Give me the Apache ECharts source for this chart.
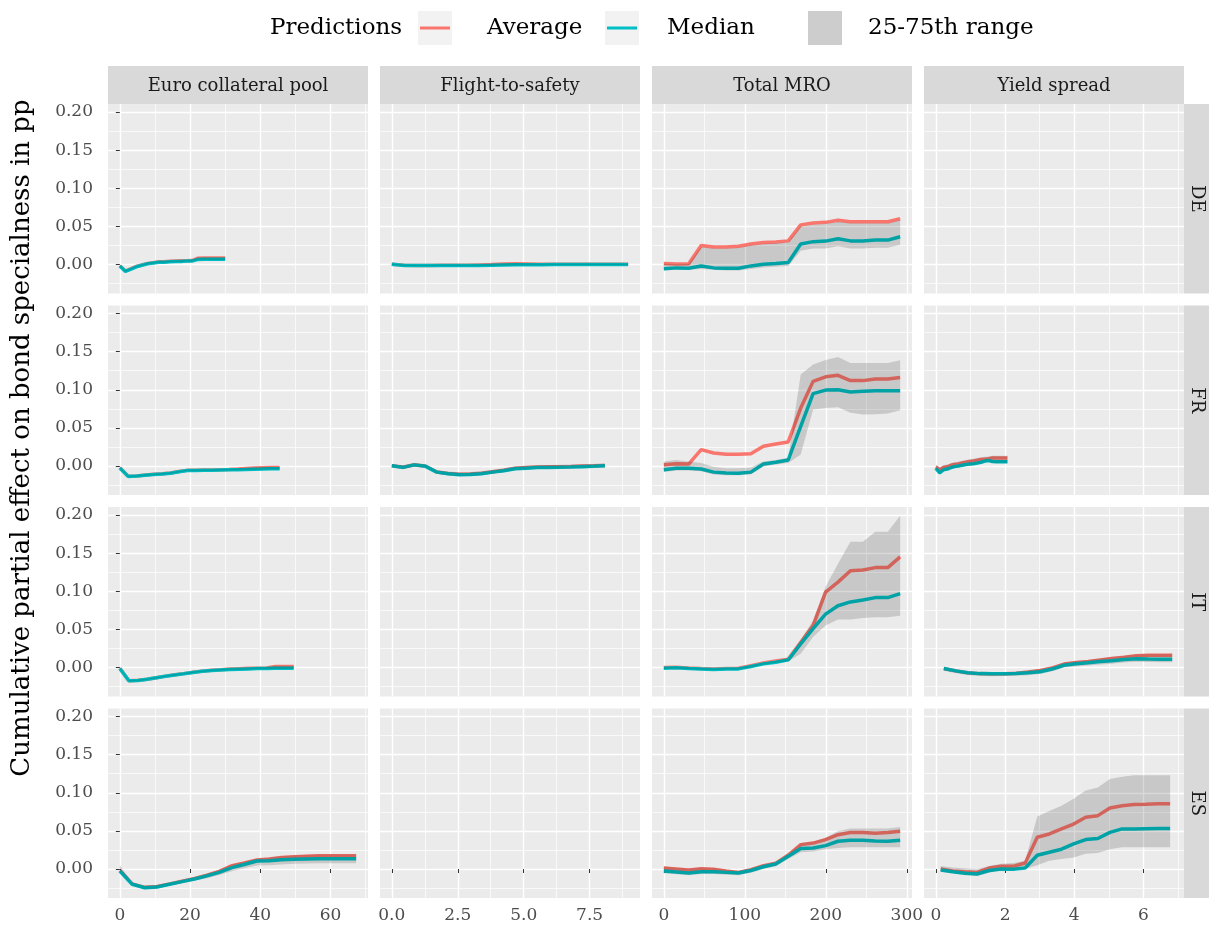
<!DOCTYPE html>
<html>
<head>
<meta charset="utf-8">
<script src="https://cdn.jsdelivr.net/npm/echarts@6/dist/echarts.min.js"></script>
<style>
  html, body { margin: 0; padding: 0; background: #fff; }
  #chart { width: 1209px; height: 932px; }
</style>
</head>
<body>
<div id="chart"></div>
<script>
const FONT = 'DejaVu Serif';
const colNames = ['Euro collateral pool', 'Flight-to-safety', 'Total MRO', 'Yield spread'];
const rowNames = ['DE', 'FR', 'IT', 'ES'];

// tick values per column (free x scales), shared y
const xMajor = [[0, 20, 40, 60], [0, 2.5, 5, 7.5], [0, 100, 200, 300], [0, 2, 4, 6]];
const xMinor = [[10, 30, 50, 70], [1.25, 3.75, 6.25, 8.75], [50, 150, 250], [1, 3, 5, 7]];
const xRange = [[-3.37, 70.67], [-0.448, 9.41], [-14.6, 306.4], [-0.342, 7.17]];
const yMajor = [0, 0.05, 0.1, 0.15, 0.2];
const yMinor = [-0.025, 0.025, 0.075, 0.125, 0.175];
const yRange = [-0.038, 0.2105];

// ---- DE ----
const deEuroX = [0, 1.6, 3.2, 4.7, 6.3, 7.9, 9.5, 11.1, 12.6, 14.2, 15.8, 17.4, 19, 20.5, 22.1, 23.7, 25.3, 26.9, 28.4, 30];
const deEuroAvg = [-0.0015, -0.0085, -0.0055, -0.0025, -0.0005, 0.0015, 0.0025, 0.0035, 0.0038, 0.0042, 0.0046, 0.0048, 0.005, 0.0052, 0.0082, 0.0085, 0.0085, 0.0085, 0.0085, 0.0086];
const deEuroMed = [-0.002, -0.009, -0.006, -0.003, -0.001, 0.001, 0.002, 0.003, 0.003, 0.0035, 0.004, 0.004, 0.0045, 0.0045, 0.0065, 0.0068, 0.0068, 0.0068, 0.0068, 0.0068];
const deEuroLo = [-0.003, -0.010, -0.007, -0.004, -0.002, 0, 0.001, 0.002, 0.002, 0.0025, 0.003, 0.003, 0.0035, 0.0035, 0.0055, 0.0058, 0.0058, 0.0058, 0.0058, 0.0058];
const deEuroHi = [-0.0005, -0.0075, -0.0045, -0.0015, 0.0005, 0.0025, 0.0035, 0.0045, 0.0048, 0.0052, 0.0056, 0.0058, 0.006, 0.0062, 0.0092, 0.0095, 0.0095, 0.0095, 0.0095, 0.0096];

const deFlightX = [0, 0.47, 0.94, 1.41, 1.89, 2.36, 2.83, 3.3, 3.77, 4.24, 4.72, 5.19, 5.66, 6.13, 6.6, 7.07, 7.55, 8.02, 8.49, 8.96];
const deFlightAvg = [0.0003, -0.001, -0.0012, -0.0012, -0.0011, -0.001, -0.001, -0.0005, 0, 0.0008, 0.001, 0.0008, 0.0005, 0.0003, 0.0002, 0.0002, 0.0002, 0.0002, 0.0002, 0.0002];
const deFlightMed = [0.0003, -0.0012, -0.0014, -0.0014, -0.0013, -0.0013, -0.0013, -0.0012, -0.001, -0.0006, -0.0004, -0.0002, -0.0002, 0, 0, 0, 0, 0, 0, 0];
const deFlightLo = [-0.0007, -0.0022, -0.0024, -0.0024, -0.0023, -0.0023, -0.0023, -0.0022, -0.002, -0.0016, -0.0014, -0.0012, -0.0012, -0.001, -0.001, -0.001, -0.001, -0.001, -0.001, -0.001];
const deFlightHi = [0.0013, 0, -0.0002, -0.0002, -0.0001, 0, 0, 0.0005, 0.001, 0.0018, 0.002, 0.0018, 0.0015, 0.0013, 0.0012, 0.0012, 0.0012, 0.0012, 0.0012, 0.0012];

const mroX = [0, 15.4, 30.7, 46.1, 61.4, 76.8, 92.2, 107.5, 122.9, 138.2, 153.6, 169, 184.3, 199.7, 215, 230.4, 245.8, 261.1, 276.5, 291.8];
const deMroAvg = [0.0013, 0.0006, 0.001, 0.025, 0.023, 0.023, 0.024, 0.027, 0.029, 0.0294, 0.031, 0.052, 0.0544, 0.0553, 0.058, 0.056, 0.056, 0.056, 0.056, 0.06];
const deMroMed = [-0.0057, -0.0044, -0.005, -0.002, -0.0044, -0.005, -0.005, -0.0018, 0.0004, 0.0013, 0.0026, 0.027, 0.030, 0.0307, 0.0338, 0.031, 0.031, 0.032, 0.032, 0.0364];
const deMroLo = [-0.008, -0.007, -0.007, -0.006, -0.007, -0.008, -0.008, -0.006, -0.004, -0.003, -0.002, 0.018, 0.021, 0.021, 0.024, 0.021, 0.021, 0.022, 0.022, 0.026];
const deMroHi = [0.001, 0.0005, 0.0008, 0.023, 0.021, 0.021, 0.022, 0.025, 0.027, 0.028, 0.029, 0.05, 0.052, 0.053, 0.056, 0.054, 0.054, 0.054, 0.054, 0.058];

// ---- FR ----
const frEuroX = [0, 2.4, 4.8, 7.2, 9.6, 12, 14.4, 16.8, 19.2, 21.6, 24, 26.3, 28.7, 31.1, 33.5, 35.9, 38.3, 40.7, 43.1, 45.5];
const frEuroAvg = [-0.0024, -0.0134, -0.013, -0.0118, -0.0108, -0.0102, -0.0092, -0.0072, -0.0057, -0.0055, -0.0053, -0.0051, -0.0048, -0.0045, -0.004, -0.0032, -0.0027, -0.0024, -0.0021, -0.002];
const frEuroMed = [-0.0026, -0.0136, -0.0132, -0.012, -0.011, -0.0105, -0.0095, -0.0075, -0.006, -0.0058, -0.0056, -0.0054, -0.0052, -0.005, -0.0048, -0.0046, -0.0042, -0.004, -0.0037, -0.0035];
const frEuroLo = [-0.0036, -0.0146, -0.0142, -0.013, -0.012, -0.0115, -0.0105, -0.0085, -0.007, -0.0068, -0.0066, -0.0064, -0.0062, -0.006, -0.0058, -0.0056, -0.0052, -0.005, -0.0047, -0.0045];
const frEuroHi = [-0.0014, -0.0124, -0.012, -0.0108, -0.0098, -0.0092, -0.0082, -0.0062, -0.0047, -0.0045, -0.0043, -0.0041, -0.0038, -0.0035, -0.003, -0.0022, -0.0017, -0.0014, -0.0011, -0.001];

const frFlightX = [0, 0.43, 0.85, 1.28, 1.7, 2.13, 2.55, 2.98, 3.4, 3.83, 4.25, 4.68, 5.1, 5.53, 5.95, 6.38, 6.8, 7.23, 7.65, 8.08];
const frFlightAvg = [0.0004, -0.0016, 0.0016, -0.0003, -0.0078, -0.0098, -0.0108, -0.0104, -0.0094, -0.0074, -0.0055, -0.0028, -0.002, -0.0012, -0.001, -0.0008, -0.0005, 0, 0.0003, 0.0008];
const frFlightMed = [0.0004, -0.0018, 0.0015, -0.0004, -0.008, -0.0102, -0.0114, -0.011, -0.010, -0.008, -0.0062, -0.0035, -0.0028, -0.002, -0.0018, -0.0016, -0.0013, -0.0008, -0.0004, 0.0004];
const frFlightLo = [-0.0016, -0.0038, -0.0005, -0.0024, -0.01, -0.0122, -0.0134, -0.013, -0.012, -0.01, -0.0082, -0.0055, -0.0048, -0.004, -0.0038, -0.0036, -0.0033, -0.0028, -0.0024, -0.0016];
const frFlightHi = [0.0029, 0.0009, 0.0041, 0.0022, -0.0053, -0.0073, -0.0083, -0.0079, -0.0069, -0.0049, -0.003, -0.0003, 0.0005, 0.0013, 0.0015, 0.0017, 0.002, 0.0025, 0.0028, 0.0033];

const frMroAvg = [0.0018, 0.003, 0.0026, 0.0215, 0.017, 0.0154, 0.0154, 0.016, 0.026, 0.029, 0.0316, 0.076, 0.111, 0.117, 0.119, 0.112, 0.112, 0.114, 0.114, 0.116];
const frMroMed = [-0.005, -0.003, -0.003, -0.004, -0.008, -0.009, -0.0096, -0.008, 0.0026, 0.005, 0.008, 0.052, 0.095, 0.0996, 0.1, 0.097, 0.098, 0.0987, 0.0987, 0.0987];
const frMroLo = [-0.008, -0.006, -0.006, -0.007, -0.011, -0.012, -0.012, -0.011, -0.001, 0.002, 0.004, 0.015, 0.074, 0.076, 0.077, 0.07, 0.0675, 0.068, 0.069, 0.073];
const frMroHi = [0.006, 0.008, 0.006, 0.004, -0.001, -0.003, -0.003, -0.002, 0.006, 0.008, 0.011, 0.12, 0.133, 0.139, 0.143, 0.135, 0.135, 0.135, 0.135, 0.1386];

const frYieldX = [0, 0.11, 0.22, 0.33, 0.44, 0.54, 0.65, 0.76, 0.87, 0.98, 1.09, 1.2, 1.31, 1.42, 1.53, 1.63, 1.74, 1.85, 1.96, 2.07];
const frYieldAvg = [-0.001, -0.005, -0.002, -0.001, 0.001, 0.002, 0.0026, 0.004, 0.005, 0.006, 0.0065, 0.0075, 0.0085, 0.009, 0.0095, 0.0105, 0.0105, 0.0105, 0.0105, 0.0105];
const frYieldMed = [-0.003, -0.009, -0.005, -0.004, -0.002, -0.0008, 0, 0.001, 0.002, 0.0025, 0.003, 0.004, 0.005, 0.0065, 0.0072, 0.0058, 0.0057, 0.0057, 0.0057, 0.0057];
const frYieldLo = [-0.005, -0.011, -0.007, -0.006, -0.004, -0.0028, -0.002, -0.001, 0, 0.0005, 0.001, 0.002, 0.003, 0.0045, 0.0052, 0.0038, 0.0037, 0.0037, 0.0037, 0.0037];
const frYieldHi = [0.002, -0.002, 0.001, 0.002, 0.004, 0.005, 0.0056, 0.007, 0.008, 0.009, 0.0095, 0.0105, 0.0115, 0.012, 0.0125, 0.0135, 0.0135, 0.0135, 0.0135, 0.0135];

// ---- IT ----
const itEuroX = [0, 2.6, 5.2, 7.8, 10.4, 13, 15.6, 18.2, 20.8, 23.4, 26.1, 28.7, 31.3, 33.9, 36.5, 39.1, 41.7, 44.3, 46.9, 49.5];
const itEuroAvg = [-0.0011, -0.0173, -0.0168, -0.0153, -0.0133, -0.0113, -0.0096, -0.008, -0.0062, -0.0048, -0.0037, -0.0028, -0.002, -0.0015, -0.001, -0.0008, -0.0006, 0.0013, 0.0013, 0.0013];
const itEuroMed = [-0.0013, -0.0175, -0.017, -0.0155, -0.0135, -0.0115, -0.0098, -0.0082, -0.0064, -0.005, -0.004, -0.0032, -0.0026, -0.0022, -0.0018, -0.0014, -0.0013, -0.0009, -0.0009, -0.0009];
const itEuroLo = [-0.0023, -0.0185, -0.018, -0.0165, -0.0145, -0.0125, -0.0108, -0.0092, -0.0074, -0.006, -0.005, -0.0042, -0.0036, -0.0032, -0.0028, -0.0024, -0.0023, -0.0019, -0.0019, -0.0019];
const itEuroHi = [-0.0001, -0.0163, -0.0158, -0.0143, -0.0123, -0.0103, -0.0086, -0.007, -0.0052, -0.0038, -0.0027, -0.0018, -0.001, -0.0005, 0, 0.0002, 0.0004, 0.0023, 0.0023, 0.0023];

const itMroAvg = [0, 0.0004, -0.0005, -0.0012, -0.0018, -0.0012, -0.001, 0.0025, 0.006, 0.0085, 0.011, 0.033, 0.055, 0.099, 0.112, 0.127, 0.128, 0.131, 0.131, 0.145];
const itMroMed = [-0.0009, -0.0004, -0.0013, -0.002, -0.0026, -0.002, -0.0018, 0.0013, 0.0048, 0.007, 0.010, 0.031, 0.051, 0.070, 0.081, 0.086, 0.0886, 0.0917, 0.0917, 0.097];
const itMroLo = [-0.002, -0.0015, -0.0025, -0.003, -0.0035, -0.003, -0.003, 0, 0.0035, 0.006, 0.008, 0.018, 0.040, 0.055, 0.063, 0.063, 0.065, 0.066, 0.066, 0.068];
const itMroHi = [0.001, 0.0015, 0.0005, -0.0005, -0.001, -0.0005, 0, 0.003, 0.0065, 0.009, 0.012, 0.036, 0.062, 0.106, 0.136, 0.165, 0.165, 0.178, 0.178, 0.199];

const itYieldX = [0.23, 0.58, 0.92, 1.27, 1.62, 1.97, 2.31, 2.66, 3.01, 3.36, 3.7, 4.05, 4.4, 4.75, 5.09, 5.44, 5.79, 6.14, 6.48, 6.83];
const itYieldAvg = [-0.0013, -0.0044, -0.0068, -0.008, -0.0083, -0.0082, -0.0075, -0.006, -0.004, -0.0005, 0.0045, 0.0065, 0.008, 0.01, 0.012, 0.0135, 0.0155, 0.016, 0.016, 0.016];
const itYieldMed = [-0.0013, -0.0044, -0.0068, -0.008, -0.0083, -0.0082, -0.0078, -0.007, -0.0055, -0.002, 0.003, 0.005, 0.0062, 0.0078, 0.009, 0.0105, 0.0115, 0.0112, 0.011, 0.011];
const itYieldLo = [-0.0043, -0.0074, -0.0098, -0.011, -0.0113, -0.0112, -0.0108, -0.01, -0.0085, -0.005, 0, 0.0015, 0.0025, 0.0038, 0.005, 0.0065, 0.0075, 0.0072, 0.007, 0.007];
const itYieldHi = [0.0007, -0.0024, -0.0048, -0.006, -0.0063, -0.0062, -0.0055, -0.004, -0.002, 0.0015, 0.0065, 0.0085, 0.01, 0.012, 0.014, 0.0155, 0.0175, 0.018, 0.018, 0.018];

// ---- ES ----
const esEuroX = [0, 3.5, 7.1, 10.6, 14.2, 17.7, 21.3, 24.8, 28.3, 31.9, 35.4, 39, 42.5, 46, 49.6, 53.1, 56.7, 60.2, 63.8, 67.3];
const esEuroAvg = [-0.002, -0.0195, -0.024, -0.023, -0.0195, -0.016, -0.0125, -0.008, -0.003, 0.0044, 0.008, 0.0118, 0.013, 0.015, 0.016, 0.0168, 0.0175, 0.0175, 0.0175, 0.0175];
const esEuroMed = [-0.0026, -0.020, -0.0246, -0.0235, -0.020, -0.0165, -0.013, -0.009, -0.0044, 0.0018, 0.006, 0.0105, 0.011, 0.012, 0.0128, 0.0132, 0.0136, 0.0136, 0.0136, 0.0136];
const esEuroLo = [-0.005, -0.022, -0.0266, -0.0255, -0.022, -0.0185, -0.015, -0.012, -0.008, -0.003, 0.001, 0.0045, 0.005, 0.006, 0.0068, 0.0072, 0.0076, 0.0076, 0.0076, 0.0076];
const esEuroHi = [0.005, -0.0175, -0.022, -0.021, -0.0175, -0.014, -0.0105, -0.006, -0.001, 0.0064, 0.01, 0.0138, 0.015, 0.017, 0.018, 0.0188, 0.0195, 0.0195, 0.0195, 0.0195];

const esMroAvg = [0.0013, 0, -0.0013, 0.0004, -0.0004, -0.0026, -0.0044, -0.0009, 0.0044, 0.0075, 0.0184, 0.032, 0.034, 0.0386, 0.045, 0.048, 0.048, 0.047, 0.048, 0.0496];
const esMroMed = [-0.0026, -0.004, -0.0053, -0.0035, -0.0035, -0.0044, -0.0053, -0.002, 0.003, 0.0066, 0.0167, 0.027, 0.0276, 0.0307, 0.0364, 0.0377, 0.0377, 0.0368, 0.0364, 0.0377];
const esMroLo = [-0.0056, -0.007, -0.0083, -0.0065, -0.0065, -0.0074, -0.0083, -0.005, 0, 0.0036, 0.013, 0.022, 0.023, 0.026, 0.0276, 0.0285, 0.0285, 0.0285, 0.0285, 0.0285];
const esMroHi = [0.0033, 0.002, 0.0007, 0.0024, 0.0016, -0.0006, -0.0024, 0.0011, 0.0064, 0.0095, 0.0204, 0.034, 0.036, 0.041, 0.05, 0.053, 0.053, 0.053, 0.053, 0.055];

const esYieldX = [0.14, 0.49, 0.84, 1.19, 1.54, 1.89, 2.23, 2.58, 2.93, 3.28, 3.63, 3.98, 4.33, 4.68, 5.03, 5.38, 5.72, 6.07, 6.42, 6.77];
const esYieldAvg = [0, -0.0025, -0.0035, -0.0044, 0.0013, 0.0035, 0.0035, 0.0079, 0.0417, 0.046, 0.0526, 0.059, 0.068, 0.070, 0.080, 0.083, 0.0846, 0.085, 0.0855, 0.0855];
const esYieldMed = [-0.0013, -0.0035, -0.0055, -0.0066, -0.002, 0, -0.0004, 0.0013, 0.018, 0.022, 0.026, 0.033, 0.0386, 0.040, 0.048, 0.0526, 0.0526, 0.0528, 0.053, 0.053];
const esYieldLo = [-0.0035, -0.006, -0.008, -0.009, -0.005, -0.002, -0.002, 0, 0.005, 0.011, 0.013, 0.015, 0.02, 0.021, 0.026, 0.0285, 0.0285, 0.0285, 0.0285, 0.0285];
const esYieldHi = [0.004, 0.002, 0.001, 0, 0.004, 0.007, 0.008, 0.011, 0.069, 0.076, 0.083, 0.092, 0.103, 0.107, 0.118, 0.121, 0.123, 0.123, 0.123, 0.123];

// panels that carry data: [row, col, x, avg, med, lo, hi]
const panels = [
    [0, 0, deEuroX, deEuroAvg, deEuroMed, deEuroLo, deEuroHi],
    [0, 1, deFlightX, deFlightAvg, deFlightMed, deFlightLo, deFlightHi],
    [0, 2, mroX, deMroAvg, deMroMed, deMroLo, deMroHi],
    [1, 0, frEuroX, frEuroAvg, frEuroMed, frEuroLo, frEuroHi],
    [1, 1, frFlightX, frFlightAvg, frFlightMed, frFlightLo, frFlightHi],
    [1, 2, mroX, frMroAvg, frMroMed, frMroLo, frMroHi],
    [1, 3, frYieldX, frYieldAvg, frYieldMed, frYieldLo, frYieldHi],
    [2, 0, itEuroX, itEuroAvg, itEuroMed, itEuroLo, itEuroHi],
    [2, 2, mroX, itMroAvg, itMroMed, itMroLo, itMroHi],
    [2, 3, itYieldX, itYieldAvg, itYieldMed, itYieldLo, itYieldHi],
    [3, 0, esEuroX, esEuroAvg, esEuroMed, esEuroLo, esEuroHi],
    [3, 2, mroX, esMroAvg, esMroMed, esMroLo, esMroHi],
    [3, 3, esYieldX, esYieldAvg, esYieldMed, esYieldLo, esYieldHi]
];

// layout
const colLeft = [108, 380, 652, 924];
const rowTop = [104, 305.5, 507, 708.5];
const PW = 260, PH = 189.5;
const RED = '#F8766D', TEAL = '#00BFC4', BAND = 'rgba(0,0,0,0.15)';

const grids = [], xAxes = [], yAxes = [], series = [], graphics = [];

for (let r = 0; r < 4; r++) {
    for (let c = 0; c < 4; c++) {
        const g = grids.length;
        const bottom = r === 3, left = c === 0;
        grids.push({left: colLeft[c], top: rowTop[r], width: PW, height: PH,
            show: true, backgroundColor: '#EBEBEB', borderWidth: 0});
        xAxes.push({
            type: 'value', gridIndex: g, min: xRange[c][0], max: xRange[c][1],
            axisLine: {show: false},
            axisTick: {show: bottom, length: 4, customValues: xMajor[c], lineStyle: {color: '#333', width: 1}},
            axisLabel: {show: bottom, customValues: xMajor[c], color: '#4D4D4D', fontFamily: FONT, fontSize: 17, margin: 9,
                formatter: v => c === 1 ? v.toFixed(1) : String(v)},
            splitLine: {show: true, lineStyle: {color: '#fff', width: 1.4}}
        });
        xAxes.push({
            type: 'value', gridIndex: g, min: xRange[c][0], max: xRange[c][1],
            axisLine: {show: false},
            axisTick: {show: false, customValues: xMinor[c]},
            axisLabel: {show: false, customValues: xMinor[c]},
            splitLine: {show: true, lineStyle: {color: '#fff', width: 0.7}}
        });
        yAxes.push({
            type: 'value', gridIndex: g, min: yRange[0], max: yRange[1],
            axisLine: {show: false},
            axisTick: {show: left, length: 4, customValues: yMajor, lineStyle: {color: '#333', width: 1}},
            axisLabel: {show: left, customValues: yMajor, color: '#4D4D4D', fontFamily: FONT, fontSize: 17, margin: 15,
                formatter: v => v.toFixed(2)},
            splitLine: {show: true, lineStyle: {color: '#fff', width: 1.4}}
        });
        yAxes.push({
            type: 'value', gridIndex: g, min: yRange[0], max: yRange[1],
            axisLine: {show: false},
            axisTick: {show: false, customValues: yMinor},
            axisLabel: {show: false, customValues: yMinor},
            splitLine: {show: true, lineStyle: {color: '#fff', width: 0.7}}
        });
    }
}

const pair = (xs, ys) => xs.map((x, i) => [x, ys[i]]);

panels.forEach(([r, c, xs, avg, med, lo, hi]) => {
    const g = r * 4 + c;
    const ax = {xAxisIndex: 2 * g, yAxisIndex: 2 * g, silent: true};
    series.push(Object.assign({type: 'line', name: 'Average', data: pair(xs, avg), z: 2, symbol: 'none',
        lineStyle: {color: RED, width: 3.5}, itemStyle: {color: RED}}, ax));
    series.push(Object.assign({type: 'line', name: 'Median', data: pair(xs, med), z: 2, symbol: 'none',
        lineStyle: {color: TEAL, width: 3.5}, itemStyle: {color: TEAL}}, ax));
    // 25-75th ribbon, drawn over the lines as one polygon through the axis scales
    series.push(Object.assign({
        type: 'custom', name: '25-75th range', z: 3,
        data: xs.map((x, i) => [x, lo[i], hi[i]]),
        encode: {x: 0, y: [1, 2]},
        renderItem: (params, api) => {
            if (params.dataIndex !== 0) return null;
            const upper = xs.map((x, i) => api.coord([x, hi[i]]));
            const lower = xs.map((x, i) => api.coord([x, lo[i]])).reverse();
            return {type: 'polygon', shape: {points: upper.concat(lower)}, style: {fill: BAND}};
        }
    }, ax));
});

// strips
const stripFont = '18px "' + FONT + '"';
colNames.forEach((name, c) => {
    graphics.push({type: 'rect', shape: {x: colLeft[c], y: 66, width: PW, height: 38}, style: {fill: '#D9D9D9'}, silent: true});
    graphics.push({type: 'text', x: colLeft[c] + PW / 2, y: 86,
        style: {text: name, fill: '#1A1A1A', font: stripFont, textAlign: 'center', textVerticalAlign: 'middle'}});
});
rowNames.forEach((name, r) => {
    graphics.push({type: 'rect', shape: {x: 1184, y: rowTop[r], width: 25, height: PH}, style: {fill: '#D9D9D9'}, silent: true});
    graphics.push({type: 'text', x: 1197, y: rowTop[r] + PH / 2, rotation: -Math.PI / 2,
        style: {text: name, fill: '#1A1A1A', font: stripFont, textAlign: 'center', textVerticalAlign: 'middle'}});
});

// y title
graphics.push({type: 'text', x: 22, y: 438, rotation: Math.PI / 2,
    style: {text: 'Cumulative partial effect on bond specialness in pp', fill: '#000',
        font: '26px "' + FONT + '"', textAlign: 'center', textVerticalAlign: 'middle'}});

// legend
const legFont = '23px "' + FONT + '"';
graphics.push({type: 'text', x: 270, y: 28, style: {text: 'Predictions', fill: '#000', font: legFont, textVerticalAlign: 'middle'}});
graphics.push({type: 'rect', shape: {x: 418, y: 11, width: 34, height: 34}, style: {fill: '#F2F2F2'}});
graphics.push({type: 'line', shape: {x1: 420, y1: 28, x2: 450, y2: 28}, style: {stroke: RED, lineWidth: 3}});
graphics.push({type: 'text', x: 487, y: 28, style: {text: 'Average', fill: '#000', font: legFont, textVerticalAlign: 'middle'}});
graphics.push({type: 'rect', shape: {x: 605, y: 11, width: 34, height: 34}, style: {fill: '#F2F2F2'}});
graphics.push({type: 'line', shape: {x1: 607, y1: 28, x2: 637, y2: 28}, style: {stroke: TEAL, lineWidth: 3}});
graphics.push({type: 'text', x: 667, y: 28, style: {text: 'Median', fill: '#000', font: legFont, textVerticalAlign: 'middle'}});
graphics.push({type: 'rect', shape: {x: 808, y: 11, width: 34, height: 34}, style: {fill: '#CDCDCD'}});
graphics.push({type: 'text', x: 868, y: 28, style: {text: '25-75th range', fill: '#000', font: legFont, textVerticalAlign: 'middle'}});

const chart = echarts.init(document.getElementById('chart'));
chart.setOption({
    animation: false,
    grid: grids,
    xAxis: xAxes,
    yAxis: yAxes,
    series: series,
    graphic: graphics
});
</script>
</body>
</html>
